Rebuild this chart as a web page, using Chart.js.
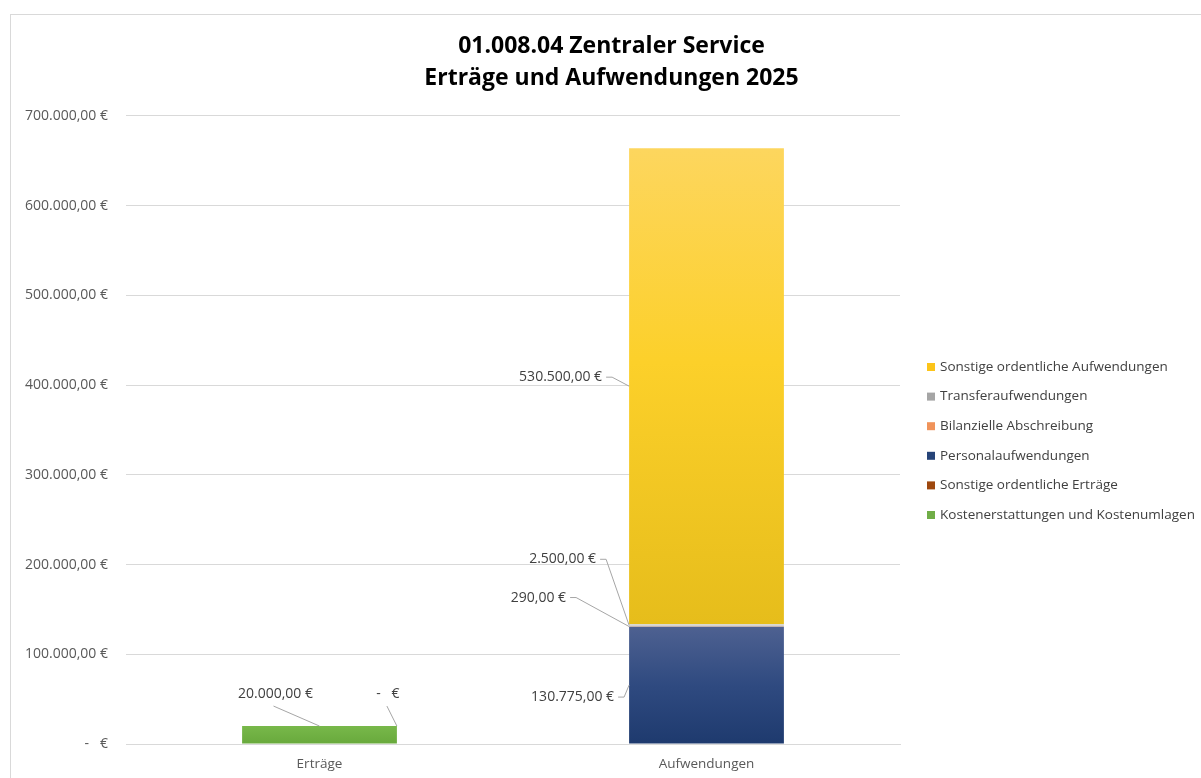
<!DOCTYPE html>
<html>
<head>
<meta charset="utf-8">
<script src="https://cdn.jsdelivr.net/npm/chart.js@4.4.1/dist/chart.umd.min.js"></script>
<style>
  html, body { margin: 0; padding: 0; background: #fff; }
  #wrap { position: relative; width: 1201px; height: 778px; }
</style>
</head>
<body>
<div id="wrap"><canvas id="chart" width="1201" height="778"></canvas></div>
<script>
// ---- data ----
const categories = ['Erträge', 'Aufwendungen'];
const seriesNames = [
  'Kostenerstattungen und Kostenumlagen',
  'Sonstige ordentliche Erträge',
  'Personalaufwendungen',
  'Bilanzielle Abschreibung',
  'Transferaufwendungen',
  'Sonstige ordentliche Aufwendungen',
];
const kostenerstattungen   = [20000, null];
const sonstigeErtraege     = [0, null];
const personal             = [null, 130775];
const abschreibung         = [null, 290];
const transfer             = [null, 2500];
const sonstigeAufwendungen = [null, 530500];
const yTicks = [0, 100000, 200000, 300000, 400000, 500000, 600000, 700000];

const FONT = '"Open Sans", "DejaVu Sans", sans-serif';
const NB = '\u00a0';

// accounting style: 1.234,00 €, zero shown as a dash
function euro(v) {
  if (!v) return '-' + NB.repeat(3) + '€';
  const [i, d] = v.toFixed(2).split('.');
  return i.replace(/\B(?=(\d{3})+(?!\d))/g, '.') + ',' + d + ' €';
}

// vertical gradient over one stacked segment, light at top, darker at bottom
function segFill(stops, flat) {
  return (c) => {
    const chart = c.chart;
    const y = chart.scales && chart.scales.y;
    if (c.type !== 'data' || !y || !chart.chartArea) return flat;
    const sets = chart.data.datasets;
    let lo = 0;
    for (let k = 0; k < c.datasetIndex; k++) lo += sets[k].data[c.dataIndex] || 0;
    const hi = lo + (sets[c.datasetIndex].data[c.dataIndex] || 0);
    const top = y.getPixelForValue(hi), bot = y.getPixelForValue(lo);
    if (!(bot - top > 1)) return flat;
    const g = chart.ctx.createLinearGradient(0, top, 0, bot);
    stops.forEach(([p, col]) => g.addColorStop(p, col));
    return g;
  };
}

const datasets = [
  { label: seriesNames[0], data: kostenerstattungen, legendColor: '#70ad47',
    backgroundColor: segFill([[0, '#78b84a'], [1, '#68a93c']], '#70ad47') },
  { label: seriesNames[1], data: sonstigeErtraege, legendColor: '#9e480e',
    backgroundColor: '#9e480e' },
  { label: seriesNames[2], data: personal, legendColor: '#264478',
    backgroundColor: segFill([[0, '#4e6191'], [0.5, '#2f4a80'], [1, '#1e3a6e']], '#264478') },
  { label: seriesNames[3], data: abschreibung, legendColor: '#f0935a',
    backgroundColor: '#ed7d31' },
  { label: seriesNames[4], data: transfer, legendColor: '#a5a5a5',
    backgroundColor: '#d2d2d2' },
  { label: seriesNames[5], data: sonstigeAufwendungen, legendColor: '#fcc419',
    backgroundColor: segFill([[0, '#fdd65e'], [0.45, '#fcd02a'], [1, '#e6bd1b']], '#fcc419') },
];

// where each value label sits relative to its segment
const labelSpots = [
  { ds: 0, i: 0, anchor: 'top',      dx: -44, dy: -32, lead: [-2, 12] },
  { ds: 1, i: 0, anchor: 'topRight', dx: -9,  dy: -32, lead: [-1, 12] },
  { ds: 2, i: 1, anchor: 'left',     dx: -15, dy: 12 },
  { ds: 3, i: 1, anchor: 'left',     dx: -63, dy: -29 },
  { ds: 4, i: 1, anchor: 'left',     dx: -33, dy: -66 },
  { ds: 5, i: 1, anchor: 'left',     dx: -27, dy: -9 },
];

const framePlugin = {
  id: 'frame',
  beforeDraw(chart) {
    const ctx = chart.ctx;
    ctx.save();
    ctx.fillStyle = '#fff';
    ctx.fillRect(0, 0, chart.width, chart.height);
    ctx.strokeStyle = '#d9d9d9';
    ctx.lineWidth = 1;
    ctx.strokeRect(10.5, 14.5, chart.width + 20, chart.height + 20);
    ctx.restore();
  },
};

const valueLabels = {
  id: 'valueLabels',
  afterDatasetsDraw(chart) {
    const ctx = chart.ctx;
    ctx.save();
    ctx.font = '14px ' + FONT;
    ctx.textBaseline = 'middle';
    ctx.lineWidth = 1;
    ctx.strokeStyle = '#a6a6a6';
    labelSpots.forEach(s => {
      const el = chart.getDatasetMeta(s.ds).data[s.i];
      const v = chart.data.datasets[s.ds].data[s.i];
      if (!el || v === null) return;
      let ax, ay;
      if (s.anchor === 'left') { ax = el.x - el.width / 2; ay = (el.y + el.base) / 2; }
      else if (s.anchor === 'top') { ax = el.x; ay = el.y; }
      else { ax = el.x + el.width / 2; ay = el.y; }
      const tx = ax + s.dx, ty = ay + s.dy;
      ctx.beginPath();
      if (s.anchor === 'left') {
        ctx.textAlign = 'right';
        ctx.moveTo(tx + 4, ty);
        ctx.lineTo(tx + 10, ty);
        ctx.lineTo(ax, ay);
      } else {
        ctx.textAlign = 'center';
        ctx.moveTo(tx + s.lead[0], ty + s.lead[1]);
        ctx.lineTo(ax, ay);
      }
      ctx.stroke();
      ctx.fillStyle = '#404040';
      ctx.fillText(euro(v), tx, ty);
    });
    ctx.restore();
  },
};

const sideLegend = {
  id: 'sideLegend',
  afterDraw(chart) {
    const ctx = chart.ctx;
    const sets = chart.data.datasets;
    const x0 = chart.chartArea.right + 27;
    ctx.save();
    ctx.font = '13.5px ' + FONT;
    ctx.textBaseline = 'middle';
    ctx.textAlign = 'left';
    for (let k = 0; k < sets.length; k++) {
      const d = sets[sets.length - 1 - k];
      const y = 367 + k * 29.6;
      ctx.fillStyle = d.legendColor;
      ctx.fillRect(x0, y - 4, 8, 8);
      ctx.fillStyle = '#404040';
      ctx.fillText(d.label, x0 + 13, y);
    }
    ctx.restore();
  },
};

new Chart(document.getElementById('chart'), {
  type: 'bar',
  data: { labels: categories, datasets },
  plugins: [framePlugin, valueLabels, sideLegend],
  options: {
    responsive: false,
    animation: false,
    layout: { padding: { left: 22, right: 0, top: 0, bottom: 0 } },
    datasets: { bar: { barPercentage: 0.4, categoryPercentage: 1.0 } },
    plugins: {
      legend: { display: false },
      tooltip: { enabled: false },
      title: {
        display: true,
        text: ['01.008.04 Zentraler Service', 'Erträge und Aufwendungen 2025'],
        color: '#000',
        font: { family: FONT, size: 23, weight: 'bold', lineHeight: 1.39 },
        padding: { top: 30, bottom: 22 },
      },
    },
    scales: {
      x: {
        stacked: true,
        afterFit: s => { s.height = 34; },
        grid: { display: false, drawTicks: false },
        border: { display: true, color: '#d9d9d9' },
        ticks: { color: '#595959', font: { family: FONT, size: 13.5 }, padding: 12 },
      },
      y: {
        stacked: true,
        min: 0, max: 700000,
        afterBuildTicks: s => { s.ticks = yTicks.map(v => ({ value: v })); },
        afterFit: s => { s.width = 104; },
        grid: { color: '#d9d9d9', drawTicks: false },
        border: { display: false },
        ticks: { color: '#595959', font: { family: FONT, size: 14 }, padding: 18, callback: v => euro(v) },
      },
      side: {
        type: 'linear',
        position: 'right',
        display: true,
        grid: { display: false, drawTicks: false },
        border: { display: false },
        ticks: { display: false },
        afterFit: s => { s.width = 301; },
      },
    },
  },
});
</script>
</body>
</html>
